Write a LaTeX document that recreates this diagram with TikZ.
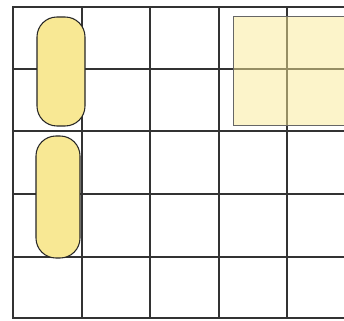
\documentclass[tikz,border=0pt]{standalone}
\definecolor{pillfill}{RGB}{248,232,148}
\definecolor{padfill}{RGB}{250,234,150}
\begin{document}
\begin{tikzpicture}[x=0.03cm,y=-0.03cm,
    gridline/.style={line width=1.3pt,black!80},
    pill/.style={draw=black!85,line width=0.9pt,fill=pillfill},
    pad/.style={draw=black!60,line width=0.8pt,fill=padfill,fill opacity=0.5}]
  \useasboundingbox (0,0) rectangle (344,321);
  \fill[white] (0,0) rectangle (344,321);
  % grid
  \foreach \x in {82,150,219,287}
    \draw[gridline] (\x,7) -- (\x,318);
  \foreach \y in {69,131,194,257}
    \draw[gridline] (13,\y) -- (350,\y);
  \draw[gridline,line width=1.8pt] (350,7) -- (13,7) -- (13,318) -- (350,318);
  % yellow square over the grid
  \draw[pad] (233,16) rectangle (350,125);
  % pills
  \draw[pill,rounded corners=17pt] (37,17) rectangle (85,126);
  \draw[pill,rounded corners=17pt] (36,136) rectangle (80,258);
\end{tikzpicture}
\end{document}
